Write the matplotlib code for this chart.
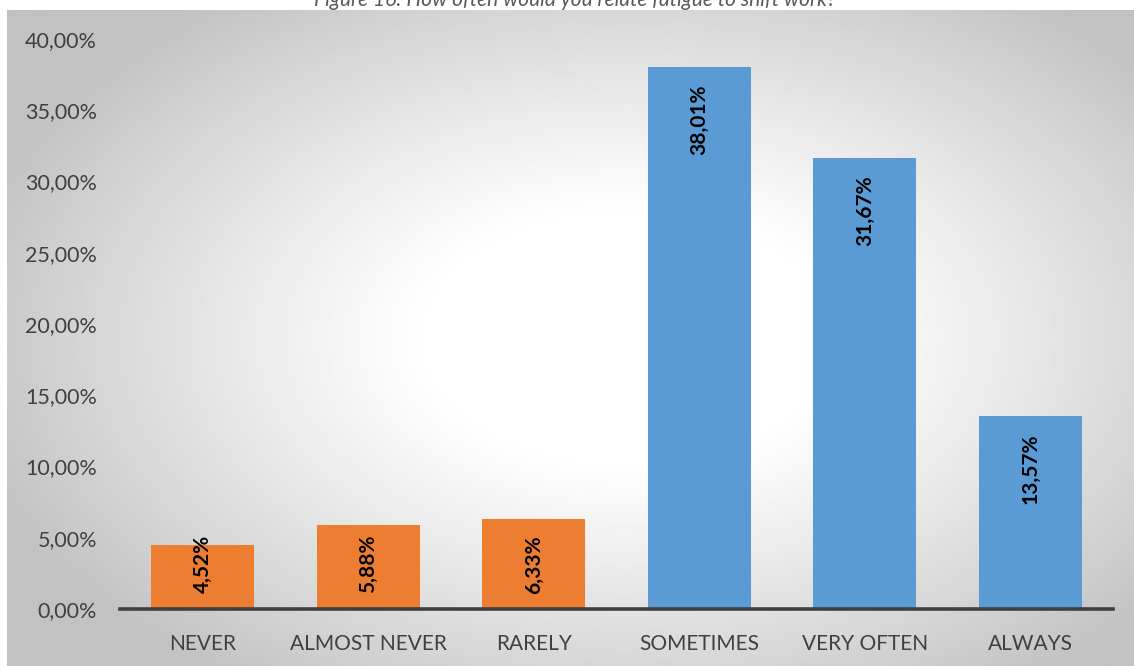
import numpy as np
import matplotlib.pyplot as plt

plt.rcParams['font.family'] = ['Lato', 'DejaVu Sans']

categories = ['NEVER', 'ALMOST NEVER', 'RARELY', 'SOMETIMES', 'VERY OFTEN', 'ALWAYS']
values = [4.52, 5.88, 6.33, 38.01, 31.67, 13.57]
labels = ['4,52%', '5,88%', '6,33%', '38,01%', '31,67%', '13,57%']
colors = ['#ED7D31', '#ED7D31', '#ED7D31', '#5B9BD5', '#5B9BD5', '#5B9BD5']
yticks = [0, 5, 10, 15, 20, 25, 30, 35, 40]
title = 'Figure 16: How often would you relate fatigue to shift work?'

W, H = 1134, 666
fig = plt.figure(figsize=(W / 100, H / 100), dpi=100)
fig.patch.set_facecolor('white')

# radial gradient background of the chart area
bg = fig.add_axes([7 / W, 0, 1 - 7 / W, (H - 10) / H], zorder=0)
gx, gy = np.meshgrid(np.linspace(0, 1, 400), np.linspace(0, 1, 240))
cx, cy = 0.55, 0.5
r = np.sqrt(((gx - cx) / 0.58) ** 2 + ((gy - cy) / 0.62) ** 2)
shade = 1 - 0.24 * np.clip((r - 0.3) / 0.75, 0, 1) ** 1.1
bg.imshow(shade, cmap='gray', vmin=0, vmax=1, aspect='auto', extent=[0, 1, 0, 1],
          interpolation='bilinear')
bg.axis('off')

ax = fig.add_axes([120 / W, (H - 609) / H, (1113 - 120) / W, (609 - 39) / H], zorder=1)
ax.patch.set_alpha(0)
x = np.arange(len(categories))
ax.bar(x, values, width=0.62, color=colors, zorder=2)
ax.set_xlim(-0.5, len(categories) - 0.5)
ax.set_ylim(0, 40)
ax.set_yticks(yticks)
ax.set_yticklabels([f'{t},00%' for t in yticks], fontsize=15.5, color='#404040')
ax.set_xticks(x)
ax.set_xticklabels(categories, fontsize=15, color='#404040')
ax.tick_params(length=0)
ax.tick_params(axis='y', pad=16.5)
ax.tick_params(axis='x', pad=18)
for s in ['top', 'right', 'left']:
    ax.spines[s].set_visible(False)
ax.spines['bottom'].set_color('#404040')
ax.spines['bottom'].set_linewidth(2.6)
ax.spines['bottom'].set_zorder(3)

# labels sit just inside the bar top, but never lower than a fixed height
for xi, v, lab in zip(x, values, labels):
    top = max(v - 1.22, 5.2)
    ax.text(xi, top, lab, rotation=90, ha='center', va='top', fontsize=15,
            fontweight='bold', color='black', zorder=4)

fig.text(0.507, 1 - 6 / H, title, ha='center', va='baseline', fontsize=15,
         style='italic', color='#595959')

fig.savefig('out.png', dpi=100)
